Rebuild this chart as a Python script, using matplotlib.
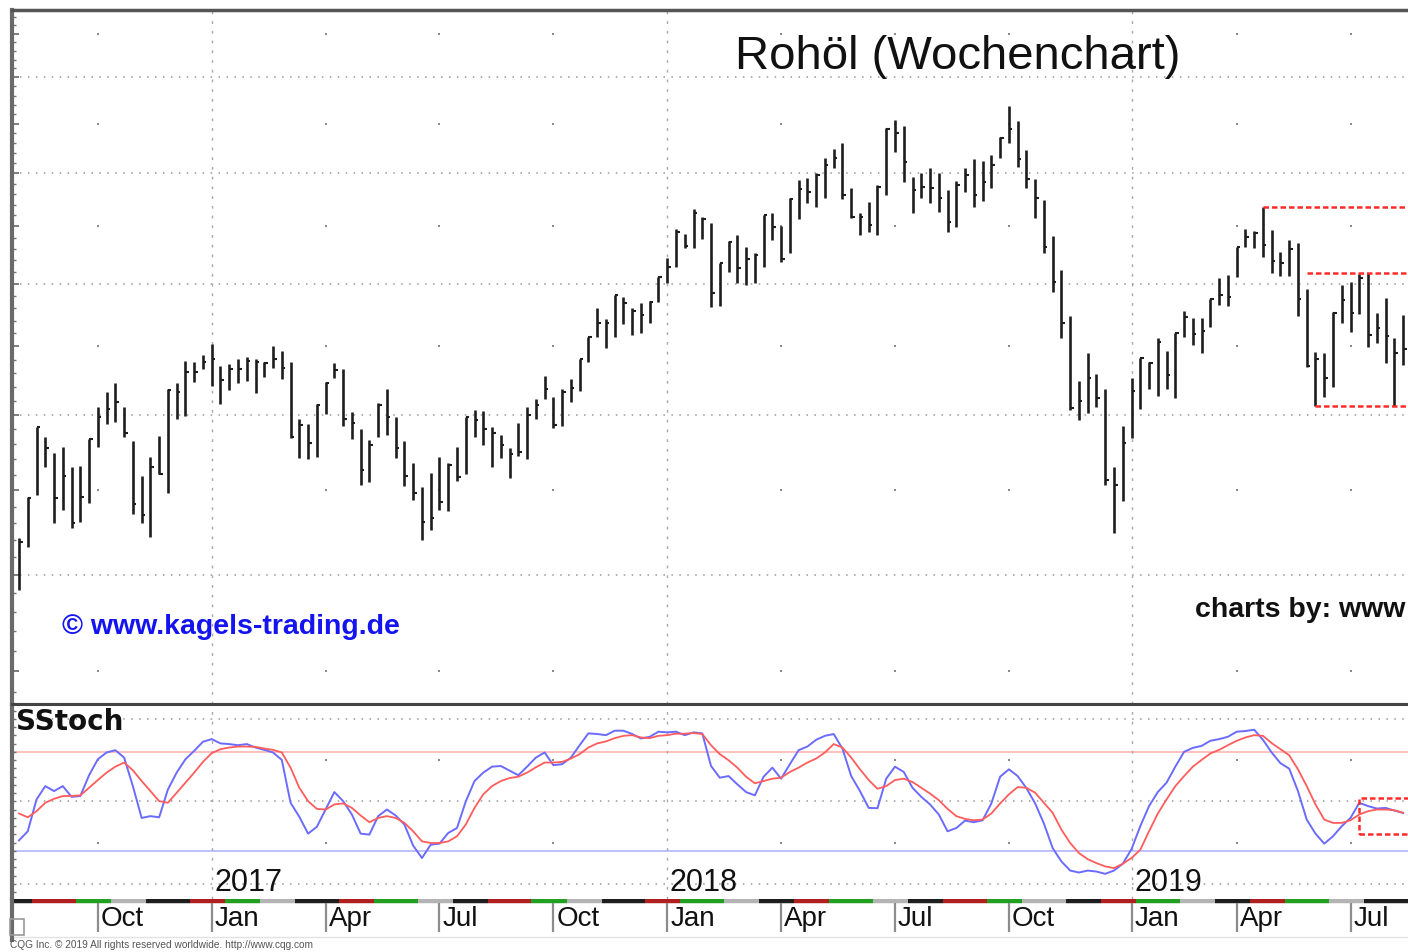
import numpy as np
import pandas as pd
import matplotlib
matplotlib.use('Agg')
import matplotlib.pyplot as plt
from matplotlib.patches import Rectangle
from matplotlib.ticker import FixedLocator, NullFormatter

plt.rcParams['font.family'] = ['Liberation Sans', 'DejaVu Sans']

# weekly bars, Monday dates
dates = pd.date_range('2016-08-01', periods=159, freq='7D')

high = [42.12, 44.59, 49.15, 48.47, 47.41, 47.81, 46.49, 46.56, 48.34, 50.55,
        51.61, 52.27, 50.55, 48.21, 45.91, 47.14, 48.54, 51.83, 52.27, 53.89,
        53.81, 54.34, 55.18, 53.51, 53.66, 54.04, 54.19, 54.04, 53.81, 55.02,
        54.64, 53.81, 49.70, 49.36, 50.76, 52.34, 53.74, 53.29, 50.20, 49.02,
        48.27, 50.83, 51.83, 49.84, 48.21, 46.75, 45.21, 46.11, 47.14, 46.75,
        47.81, 49.84, 50.34, 50.27, 49.15, 48.61, 47.74, 49.43, 50.55, 51.11,
        52.77, 51.25, 51.83, 52.56, 54.04, 55.71, 58.02, 57.13, 59.08, 58.91,
        58.02, 58.42, 58.58, 60.58, 62.20, 64.77, 64.32, 66.59, 65.86, 65.31,
        61.77, 63.69, 64.23, 63.16, 62.63, 66.04, 66.22, 65.03, 67.62, 69.34,
        69.53, 70.02, 71.50, 72.40, 73.01, 68.57, 66.22, 67.25, 68.86, 74.55,
        75.38, 74.76, 69.63, 70.02, 70.51, 70.02, 68.38, 69.24, 70.51, 71.40,
        71.20, 71.80, 73.62, 76.87, 75.28, 72.30, 69.44, 67.44, 64.13, 61.17,
        57.37, 52.41, 54.49, 52.92, 51.83, 46.49, 49.22, 52.63, 54.11, 53.81,
        55.64, 54.64, 56.04, 57.78, 57.21, 57.21, 58.75, 60.49, 60.75, 63.16,
        64.77, 64.59, 66.78, 64.68, 62.72, 63.78, 63.52, 59.57, 54.57, 54.49,
        57.70, 59.91, 60.16, 60.83, 60.92, 57.62, 58.83, 55.64, 57.46]

low = [39.17, 41.59, 44.71, 46.49, 43.00, 43.79, 42.70, 43.06, 44.22, 47.81,
       49.36, 49.50, 48.47, 43.55, 43.00, 42.17, 46.04, 44.83, 49.70, 49.91,
       52.34, 53.29, 52.04, 50.76, 51.76, 52.27, 52.41, 51.54, 52.70, 53.37,
       52.56, 48.41, 47.07, 47.01, 47.14, 50.06, 52.63, 49.22, 48.34, 45.34,
       45.53, 48.47, 48.61, 47.07, 45.27, 44.41, 42.00, 42.58, 43.79, 43.73,
       45.59, 46.04, 48.47, 47.94, 46.49, 47.07, 45.78, 47.20, 47.01, 49.70,
       51.11, 49.08, 49.22, 50.90, 51.69, 53.81, 55.71, 54.87, 55.71, 56.74,
       55.88, 56.04, 56.82, 58.50, 60.08, 61.43, 63.07, 63.07, 63.87, 58.10,
       58.18, 61.00, 60.08, 59.91, 60.08, 61.43, 63.78, 61.86, 62.63, 65.67,
       67.16, 66.78, 67.62, 70.51, 67.53, 65.76, 64.23, 64.50, 64.23, 67.91,
       72.10, 69.15, 66.22, 67.62, 67.16, 66.32, 64.50, 64.95, 68.19, 66.78,
       67.34, 68.57, 71.50, 73.01, 70.61, 68.57, 65.76, 62.63, 59.33, 55.64,
       50.34, 49.63, 50.13, 50.55, 45.34, 42.41, 44.35, 48.41, 50.41, 51.83,
       51.33, 51.83, 51.18, 55.71, 55.10, 54.49, 56.50, 58.26, 58.18, 60.58,
       63.16, 63.07, 62.29, 60.92, 60.66, 60.66, 57.37, 53.44, 50.62, 51.25,
       51.97, 56.82, 56.11, 57.54, 54.95, 55.25, 53.74, 50.62, 53.59]

close = [41.88, 44.53, 49.15, 47.74, 44.53, 45.91, 43.00, 44.59, 48.34, 49.84,
         50.41, 50.90, 48.75, 44.16, 43.49, 46.49, 46.04, 51.76, 51.61, 53.07,
         53.07, 53.81, 54.04, 52.48, 53.29, 53.29, 53.89, 53.81, 53.74, 54.04,
         53.37, 48.47, 49.29, 48.07, 50.69, 52.27, 53.22, 49.70, 49.43, 46.30,
         47.94, 50.69, 49.84, 47.74, 45.91, 44.83, 43.06, 43.30, 44.28, 46.62,
         45.85, 49.84, 49.63, 49.02, 48.75, 47.94, 47.35, 47.48, 49.99, 50.69,
         51.83, 49.29, 51.61, 51.90, 54.04, 55.71, 56.82, 56.82, 59.08, 58.42,
         57.78, 57.46, 58.50, 60.58, 61.43, 64.50, 63.24, 66.22, 65.67, 59.24,
         61.77, 63.60, 61.34, 62.11, 62.46, 66.04, 64.95, 62.11, 67.53, 68.48,
         68.19, 69.83, 70.81, 71.50, 67.91, 65.86, 65.86, 65.13, 68.67, 74.45,
         74.04, 71.11, 68.38, 68.67, 68.57, 67.62, 65.40, 68.86, 69.83, 67.91,
         69.15, 70.81, 73.52, 74.45, 71.40, 69.44, 67.62, 63.16, 60.16, 56.82,
         50.48, 50.97, 52.63, 51.18, 45.66, 45.34, 48.07, 51.69, 54.11, 53.74,
         55.33, 52.85, 56.04, 57.29, 55.96, 56.19, 58.75, 59.08, 58.91, 63.16,
         64.05, 64.41, 63.34, 61.94, 61.77, 62.98, 58.75, 53.51, 54.04, 52.63,
         57.62, 58.67, 57.62, 60.49, 55.88, 56.42, 55.79, 54.49, 54.80]

stoch_k = [26.4, 31.9, 51.2, 59.3, 56.3, 59.3, 52.8, 53.3, 65.9, 75.6,
           79.7, 81.1, 76.6, 59.3, 40.0, 41.1, 40.4, 57.3, 67.5, 75.6,
           80.7, 86.2, 87.8, 85.2, 84.8, 84.1, 84.8, 82.7, 81.3, 79.7,
           75.2, 49.2, 40.7, 30.5, 34.6, 45.1, 55.7, 50.2, 42.1, 30.5,
           29.9, 41.1, 45.1, 41.5, 36.0, 23.2, 15.7, 23.8, 24.4, 30.9,
           33.9, 50.0, 62.4, 67.5, 71.1, 71.5, 68.7, 65.9, 71.1, 76.6,
           79.7, 72.0, 72.6, 76.6, 84.1, 91.3, 90.9, 90.2, 92.9, 92.9,
           90.9, 88.2, 89.2, 92.3, 91.9, 92.3, 90.2, 91.9, 91.3, 71.5,
           64.4, 65.4, 60.4, 55.7, 53.7, 65.0, 70.5, 63.8, 72.6, 81.1,
           83.3, 87.4, 89.8, 90.9, 82.1, 65.4, 56.3, 46.1, 45.9, 63.8,
           71.1, 67.9, 58.3, 52.8, 48.2, 42.1, 31.9, 33.9, 38.4, 37.4,
           38.6, 48.8, 65.0, 69.5, 65.4, 58.1, 48.8, 36.6, 21.7, 13.6,
           8.1, 6.9, 8.1, 7.5, 6.1, 8.1, 12.2, 21.1, 35.0, 47.2,
           55.7, 61.4, 71.1, 80.1, 82.5, 83.7, 86.8, 87.8, 89.2, 92.3,
           92.7, 93.5, 87.4, 79.7, 73.2, 69.9, 56.3, 39.0, 30.5, 24.4,
           28.9, 35.0, 40.0, 49.2, 47.2, 45.7, 46.1, 44.5, 43.1]

stoch_d = [42.7, 40.4, 44.1, 49.2, 51.6, 53.3, 53.3, 53.7, 58.3, 63.0,
           67.5, 71.1, 73.6, 68.9, 62.4, 56.3, 50.2, 49.2, 55.3, 61.4,
           67.5, 74.0, 79.3, 81.7, 82.7, 83.3, 83.3, 83.1, 82.1, 81.3,
           79.7, 70.5, 58.3, 50.2, 45.5, 45.1, 48.2, 48.8, 46.1, 41.5,
           37.4, 40.0, 41.1, 40.0, 37.0, 31.9, 25.8, 24.8, 24.8, 25.8,
           28.9, 36.0, 46.1, 54.3, 59.3, 62.4, 64.2, 65.0, 67.5, 70.7,
           73.6, 73.6, 74.0, 76.0, 78.7, 82.7, 85.2, 86.4, 88.4, 89.8,
           90.2, 88.8, 88.4, 89.8, 90.2, 91.1, 91.1, 91.5, 90.9, 84.1,
           78.7, 75.0, 70.5, 65.0, 61.0, 62.4, 63.8, 64.4, 67.9, 70.5,
           73.6, 76.0, 79.7, 84.8, 82.7, 76.6, 69.5, 63.0, 57.7, 59.3,
           63.0, 63.8, 61.8, 58.3, 54.8, 50.8, 45.5, 41.1, 39.4, 38.6,
           39.0, 42.7, 48.8, 54.3, 58.7, 58.3, 55.3, 49.2, 43.1, 32.9,
           24.8, 18.7, 15.0, 12.6, 10.6, 9.6, 12.2, 15.7, 20.7, 31.9,
           42.7, 51.2, 59.3, 65.4, 71.1, 75.2, 79.1, 81.3, 84.1, 86.8,
           88.8, 90.2, 89.8, 85.4, 81.7, 78.0, 69.5, 59.3, 48.2, 39.0,
           37.0, 37.0, 38.6, 42.1, 44.1, 45.1, 45.1, 44.7, 43.1]

# red dashed marks (price levels / stoch box)
res_levels = [66.78, 60.92, 50.62]
res_start = [142, 147, 148]
box_lo, box_hi, box_start = 30.5, 52.2, 153

W, H = 1408, 952


def box(x0, y0, x1, y1):
    return [x0 / W, 1 - y1 / H, (x1 - x0) / W, (y1 - y0) / H]


x = np.arange(len(dates))
step = 8.76
xlim = ((12 - 19) / step, (1440 - 19) / step)

month = dates.month.values
new_month = np.r_[True, month[1:] != month[:-1]]
quarter_idx = [i for i in x if new_month[i] and month[i] in (1, 4, 7, 10)]
jan_idx = [i for i in quarter_idx if month[i] == 1]
other_q = [i for i in quarter_idx if month[i] != 1]

fig = plt.figure(figsize=(14.08, 9.52), dpi=100)
ax = fig.add_axes(box(12, 10, 1440, 704))
ax2 = fig.add_axes(box(12, 704, 1440, 899))
axt = fig.add_axes(box(12, 899, 1440, 940))

grid_c = '#9a9a9a'
dots = (0, (1, 4.2))

# price panel
ax.set_yscale('log')
ax.set_ylim(33.42, 87.87)
ax.set_xlim(*xlim)
for p in [40, 50, 60, 70, 80]:
    ax.axhline(p, color=grid_c, lw=1.1, ls=dots, zorder=1)
for i in jan_idx:
    ax.axvline(i, color='#a8a8a8', lw=1.0, ls=(0, (2, 5)), zorder=1)
for i in other_q:
    ax.plot([i] * 6, [35, 45, 55, 65, 75, 85], ls='none', marker='s', ms=1.6,
            color='#8a8a8a', mew=0, zorder=1)

ax.vlines(x, low, high, color='#1e1e1e', lw=1.9, zorder=3)
ax.hlines(close, x, x + 0.4, color='#1e1e1e', lw=1.5, zorder=3)

for lvl, s in zip(res_levels, res_start):
    ax.hlines(lvl, s, xlim[1], color='#ff2a2a', lw=1.8, ls=(0, (2.2, 1.2)), zorder=4)

ax.yaxis.set_major_locator(FixedLocator(list(range(35, 90, 5))))
ax.yaxis.set_minor_locator(FixedLocator(list(range(34, 88))))
ax.yaxis.set_major_formatter(NullFormatter())
ax.yaxis.set_minor_formatter(NullFormatter())
ax.tick_params(axis='y', which='major', direction='in', length=5, width=1.2, color='#666666')
ax.tick_params(axis='y', which='minor', direction='in', length=3, width=1, color='#777777')
ax.set_xticks([])
ax.spines['right'].set_visible(False)
ax.spines['top'].set_color('#555555')
ax.spines['top'].set_linewidth(2.5)
ax.spines['left'].set_color('#6a6a6a')
ax.spines['left'].set_linewidth(3)
ax.spines['bottom'].set_color('#444444')
ax.spines['bottom'].set_linewidth(2.2)

# stochastic panel
ax2.set_xlim(*xlim)
ax2.set_ylim(-9.15, 109.1)
for v in [0, 50, 100]:
    ax2.axhline(v, color=grid_c, lw=1.1, ls=dots, zorder=1)
ax2.axhline(80, color='#ffb4b4', lw=1.2, zorder=1)
ax2.axhline(20, color='#b4b4ff', lw=1.2, zorder=1)
for i in jan_idx:
    ax2.axvline(i, color='#a8a8a8', lw=1.0, ls=(0, (2, 5)), zorder=1)
for i in other_q:
    ax2.plot([i, i], [25, 75], ls='none', marker='s', ms=1.6, color='#8a8a8a', mew=0)

ax2.plot(x, stoch_k, color='#6b6bff', lw=1.4, zorder=3)
ax2.plot(x, stoch_d, color='#ff5c5c', lw=1.3, zorder=3)
ax2.add_patch(Rectangle((box_start, box_lo), xlim[1] - box_start + 2, box_hi - box_lo,
                        fill=False, edgecolor='#ff2a2a', lw=1.8, ls=(0, (2.2, 1.2)), zorder=4))

for i in jan_idx:
    ax2.text(i + 0.3, 0.5, str(dates[i].year), fontsize=22, va='center', ha='left',
             color='#111111')

ax2.yaxis.set_major_locator(FixedLocator(list(range(-5, 110, 5))))
ax2.yaxis.set_major_formatter(NullFormatter())
ax2.tick_params(axis='y', direction='in', length=3, width=1, color='#777777')
ax2.set_xticks([])
ax2.spines['right'].set_visible(False)
ax2.spines['bottom'].set_visible(False)
ax2.spines['top'].set_color('#444444')
ax2.spines['top'].set_linewidth(2.2)
ax2.spines['left'].set_color('#6a6a6a')
ax2.spines['left'].set_linewidth(3)

# time scale with monthly colour strip
axt.set_xlim(*xlim)
axt.set_ylim(41, 0)
seg_colors = ['#22a022', '#b4b4b4', '#1e1e1e', '#b02020']
bounds = [xlim[0]]
cols = [seg_colors[(dates[0].year * 12 + dates[0].month - 2) % 4]]
for y, m in sorted(set(zip(dates.year, dates.month))):
    sel = [i for i in x if dates[i].year == y and dates[i].month == m and dates[i].day >= 13]
    if sel:
        bounds.append(sel[0] - 0.5)
        cols.append(seg_colors[(y * 12 + m - 1) % 4])
bounds.append(xlim[1])
for b0, b1, c in zip(bounds[:-1], bounds[1:], cols):
    axt.hlines(2, b0, b1, color=c, lw=3.2)
axt.axhline(38, color='#e2e2e2', lw=1)
axt.vlines(quarter_idx, 4, 33, color='#8c8c8c', lw=1.6)
for i in quarter_idx:
    axt.text(i + 0.35, 20, dates[i].strftime('%b'), fontsize=20, va='center', ha='left',
             color='#111111')
axt.set_xticks([])
axt.set_yticks([])
for s in ['top', 'right', 'bottom']:
    axt.spines[s].set_visible(False)
axt.spines['left'].set_color('#6a6a6a')
axt.spines['left'].set_linewidth(3)

# texts
fig.text(958 / W, 1 - 57 / H, 'Rohöl (Wochenchart)', fontsize=34, ha='center', va='center',
         color='#111111')
fig.text(62 / W, 1 - 627 / H, '© www.kagels-trading.de', fontsize=20.5, fontweight='bold',
         color='#1414f0', ha='left', va='center')
fig.text(1195 / W, 1 - 610 / H, 'charts by: www', fontsize=20.5, fontweight='bold',
         color='#111111', ha='left', va='center')
fig.text(16 / W, 1 - 722 / H, 'SStoch', fontsize=20, fontweight='bold', family='DejaVu Sans',
         ha='left', va='center', color='#111111')
fig.text(10 / W, 1 - 945 / H, 'CQG Inc. © 2019 All rights reserved worldwide. http://www.cqg.com',
         fontsize=7.3, color='#555555', ha='left', va='center')
fig.patches.append(Rectangle((10 / W, 1 - 935 / H), 14 / W, 16 / H, fill=False,
                             edgecolor='#999999', lw=1.2, transform=fig.transFigure))

fig.savefig('out.png', dpi=100, facecolor='white')
